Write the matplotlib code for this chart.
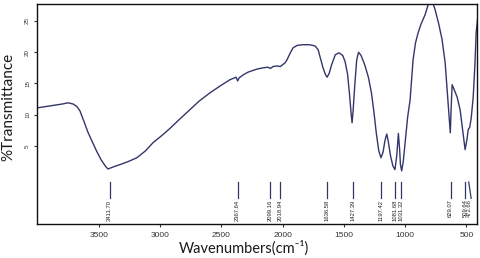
import numpy as np
import matplotlib.pyplot as plt

plt.rcParams['font.family'] = ['Liberation Sans', 'DejaVu Sans']

# FTIR spectrum (wavenumber in cm-1, %T)
wavenumber = np.array([
    4000, 3900, 3800, 3753, 3710, 3680, 3655, 3620, 3590, 3560, 3520, 3480, 3445, 3426, 3400,
    3360, 3328, 3260, 3190, 3120, 3059, 2990, 2920, 2840, 2757, 2680, 2593, 2510, 2430, 2380,
    2367, 2355, 2320, 2283, 2240, 2209, 2160, 2120, 2099, 2080, 2046, 2019, 2000, 1980, 1964,
    1940, 1915, 1880, 1833, 1780, 1735, 1710, 1694, 1670, 1650, 1637, 1620, 1600, 1570, 1540,
    1510, 1490, 1470, 1455, 1440, 1433, 1425, 1410, 1395, 1380, 1360, 1330, 1300, 1275, 1255,
    1235, 1215, 1197, 1180, 1165, 1150, 1138, 1120, 1100, 1083, 1068, 1055, 1045, 1038, 1028,
    1015, 1000, 980, 959, 935, 915, 894, 870, 837, 815, 796, 775, 755, 725, 698,
    673, 657, 640, 631, 624, 616, 595, 575, 551, 530, 510, 495, 485, 472, 460,
    444, 430, 420, 403])
transmittance = np.array([
    11.1, 11.4, 11.7, 11.9, 11.7, 11.3, 10.6, 8.8, 7.2, 5.9, 4.2, 2.7, 1.7, 1.3, 1.5,
    1.8, 2.0, 2.5, 3.1, 4.2, 5.5, 6.6, 7.8, 9.3, 10.8, 12.2, 13.5, 14.6, 15.6, 16.0,
    15.4, 15.9, 16.4, 16.8, 17.1, 17.3, 17.5, 17.6, 17.4, 17.7, 17.8, 17.7, 18.0, 18.3, 18.8,
    19.8, 20.7, 21.1, 21.2, 21.2, 21.0, 20.4, 19.2, 17.5, 16.4, 16.0, 16.6, 18.0, 19.6, 19.9,
    19.5, 18.5, 16.5, 13.5, 10.0, 8.7, 10.5, 15.0, 18.8, 20.0, 19.5, 18.0, 16.0, 13.5, 10.5,
    7.0, 4.2, 3.1, 4.0, 5.8, 6.9, 5.8, 3.5, 1.8, 1.2, 3.5, 7.0, 4.5, 2.0, 1.0,
    2.5, 5.5, 9.5, 12.4, 18.8, 21.5, 23.1, 24.5, 26.0, 27.4, 28.3, 28.0, 26.8, 24.5, 22.0,
    18.3, 14.0, 9.5, 7.1, 11.0, 14.8, 13.8, 12.8, 10.8, 7.5, 4.4, 6.0, 7.6, 8.0, 9.5,
    12.8, 18.0, 23.1, 26.3])

peak_pos = [3411.70, 2367.64, 2099.16, 2018.94, 1636.58, 1427.39, 1197.42, 1081.68, 1031.32,
            629.07, 509.64, 472.66]
peak_labels = ['3411.70', '2367.64', '2099.16', '2018.94', '1636.58', '1427.39', '1197.42',
               '1081.68', '1031.32', '629.07', '509.64', '472.66']

line_col = '#33366a'

fig = plt.figure(figsize=(4.8, 2.58), dpi=100)
ax = fig.add_axes([0.077, 0.132, 0.917, 0.852])

ax.plot(wavenumber, transmittance, color=line_col, linewidth=1.0)

# peak markers and labels
for p, lab in zip(peak_pos, peak_labels):
    if lab == '472.66':
        ax.plot([p + 8, p - 12], [-0.8, -3.4], color=line_col, linewidth=0.9)
    else:
        ax.plot([p, p], [-0.8, -3.4], color=line_col, linewidth=0.9)
    ax.text(p, -3.6, lab, rotation=90, ha='center', va='top', fontsize=4.2, color='#222222')

ax.set_xlim(4006, 412)
ax.set_ylim(-7.5, 27.7)
ax.set_xticks([3500, 3000, 2500, 2000, 1500, 1000, 500])
ax.set_yticks([5, 10, 15, 20, 25])
ax.tick_params(axis='x', labelsize=6, length=2, width=0.8, pad=4, colors='#333333')
ax.tick_params(axis='y', labelsize=4.5, length=2, width=0.8, pad=3, colors='#333333',
               labelrotation=90)
for lbl in ax.get_yticklabels():
    lbl.set_va('center')
for s in ax.spines.values():
    s.set_linewidth(1.0)
    s.set_color('#111111')

ax.set_xlabel('Wavenumbers(cm\u207b\u00b9)', fontsize=10.5, family=['Lato', 'DejaVu Sans'],
              color='#1a1a1a')
ax.xaxis.set_label_coords(0.469, -0.132)
ax.xaxis.label.set_va('baseline')
ax.set_ylabel('%Transmittance', fontsize=11, family='Lato', color='#1a1a1a')
ax.yaxis.set_label_coords(-0.05, 0.532)

fig.savefig('out.png', dpi=100)
